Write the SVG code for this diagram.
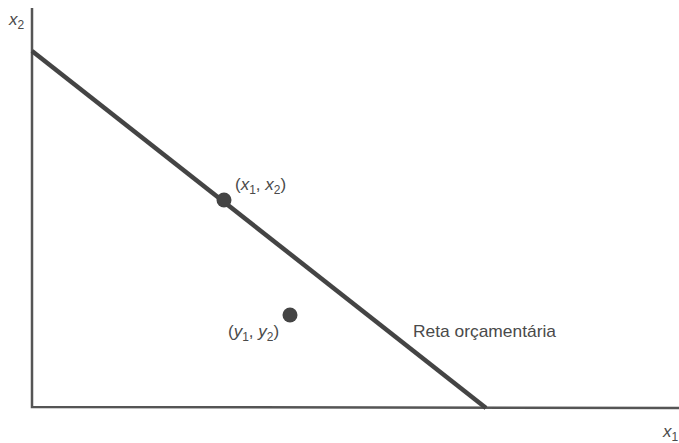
<svg xmlns="http://www.w3.org/2000/svg" width="679" height="443" viewBox="0 0 679 443">
<style>
.t{font-family:"Liberation Sans",Arial,sans-serif;font-size:17px;fill:#4a4a4a}
.i{font-style:italic}
.s{font-size:12px}
.ax{stroke:#555;stroke-width:2.5;fill:none}
.dot{fill:#444}
</style>
<rect width="679" height="443" fill="#fff"/>
<g id="connectors">
<path class="ax" d="M32,8 L32,407 L679,408"/>
<line id="budget-line" x1="32" y1="51" x2="486" y2="408" stroke="#444" stroke-width="4.5" stroke-linecap="butt"/>
</g>
<g id="axis-x2"><text class="t" x="9" y="25"><tspan class="i">x</tspan><tspan class="s" dy="4">2</tspan></text></g>
<g id="axis-x1"><text class="t" x="663" y="437"><tspan class="i">x</tspan><tspan class="s" dy="4">1</tspan></text></g>
<g id="point-x">
<circle class="dot" cx="224" cy="200" r="7.5"/>
<text class="t" x="235" y="190">(<tspan class="i">x</tspan><tspan class="s" dy="4">1</tspan><tspan dy="-4">, </tspan><tspan class="i">x</tspan><tspan class="s" dy="4">2</tspan><tspan dy="-4">)</tspan></text>
</g>
<g id="point-y">
<circle class="dot" cx="290" cy="315" r="7.5"/>
<text class="t" x="228" y="337">(<tspan class="i">y</tspan><tspan class="s" dy="4">1</tspan><tspan dy="-4">, </tspan><tspan class="i">y</tspan><tspan class="s" dy="4">2</tspan><tspan dy="-4">)</tspan></text>
</g>
<g id="label-budget"><text class="t" x="413" y="337" textLength="143" lengthAdjust="spacingAndGlyphs">Reta orçamentária</text></g>
</svg>
